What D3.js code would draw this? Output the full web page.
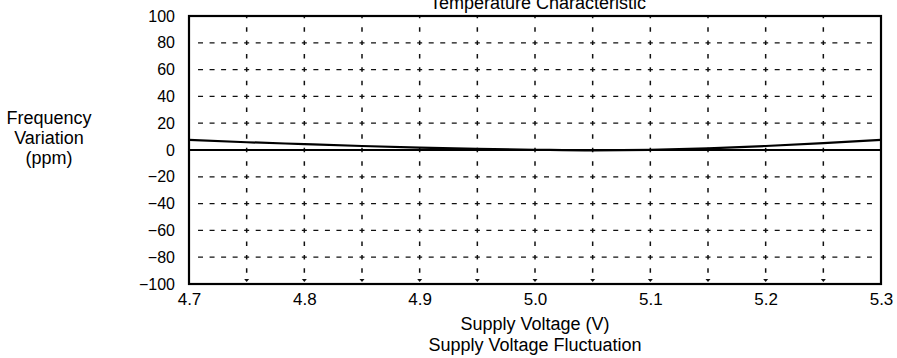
<!DOCTYPE html>
<html>
<head>
<meta charset="utf-8">
<script src="https://cdn.jsdelivr.net/npm/d3@7/dist/d3.min.js"></script>
<style>
  html, body { margin: 0; padding: 0; background: #fff; }
  svg { display: block; font-family: "Liberation Sans", Arial, Helvetica, sans-serif; }
</style>
</head>
<body>
<svg id="chart" width="897" height="358"></svg>
<script>
// Supply voltage (V) sample points
const voltages = [4.70, 4.75, 4.80, 4.85, 4.90, 4.95, 5.00, 5.05, 5.10, 5.15, 5.20, 5.25, 5.30];
// Frequency variation (ppm) versus supply voltage
const freqVariation = [7.5, 5.8, 4.4, 3.0, 1.8, 0.9, 0.2, -0.3, 0.1, 1.2, 3.0, 5.1, 7.5];
// Zero reference line (ppm)
const referenceLine = [0, 0, 0, 0, 0, 0, 0, 0, 0, 0, 0, 0, 0];

const xTicks = [4.7, 4.8, 4.9, 5.0, 5.1, 5.2, 5.3];
const yTicks = [100, 80, 60, 40, 20, 0, -20, -40, -60, -80, -100];
const xGrid = [4.75, 4.80, 4.85, 4.90, 4.95, 5.00, 5.05, 5.10, 5.15, 5.20, 5.25];
const yGrid = [80, 60, 40, 20, -20, -40, -60, -80];

const title = "Temperature Characteristic";
const xTitle = ["Supply Voltage (V)", "Supply Voltage Fluctuation"];
const yTitle = ["Frequency", "Variation", "(ppm)"];

const svg = d3.select("#chart");
const plotLeft = 189, plotRight = 881, plotTop = 16, plotBottom = 284;

const x = d3.scaleLinear().domain([4.7, 5.3]).range([plotLeft, plotRight]);
const y = d3.scaleLinear().domain([-100, 100]).range([plotBottom, plotTop]);

// Dashed grid: horizontal (dash period chosen so a dash crosses every vertical line)
const hStep = (x(4.75) - x(4.7)) / 5;
svg.append("g").selectAll("line").data(yGrid).join("line")
  .attr("x1", plotLeft + 4).attr("x2", plotRight - 4)
  .attr("y1", d => y(d)).attr("y2", d => y(d))
  .attr("stroke", "#111").attr("stroke-width", 1.3)
  .attr("stroke-dasharray", `5,${hStep - 5}`)
  .attr("stroke-dashoffset", hStep - (hStep - 2.5 - 4));

// Dashed grid: vertical
const vStep = (y(0) - y(20)) / 2;
svg.append("g").selectAll("line").data(xGrid).join("line")
  .attr("x1", d => x(d)).attr("x2", d => x(d))
  .attr("y1", plotTop).attr("y2", plotBottom - 3)
  .attr("stroke", "#111").attr("stroke-width", 1.5)
  .attr("stroke-dasharray", `4.5,${vStep - 4.5}`)
  .attr("stroke-dashoffset", 2.25);

// Small down-pointing marks at the foot of each vertical grid line
svg.append("g").selectAll("path").data(xGrid).join("path")
  .attr("d", d => `M${x(d) - 2.5},${plotBottom - 5} L${x(d) + 2.5},${plotBottom - 5} L${x(d)},${plotBottom - 2} Z`)
  .attr("fill", "#111");

// Data lines
const line = d3.line().x((d, i) => x(voltages[i])).y(d => y(d));
svg.append("path").datum(referenceLine).attr("d", line)
  .attr("fill", "none").attr("stroke", "#000").attr("stroke-width", 1.8);
svg.append("path").datum(freqVariation).attr("d", line.curve(d3.curveMonotoneX))
  .attr("fill", "none").attr("stroke", "#000").attr("stroke-width", 2.2);

// Frame
svg.append("rect")
  .attr("x", plotLeft).attr("y", plotTop)
  .attr("width", plotRight - plotLeft).attr("height", plotBottom - plotTop)
  .attr("fill", "none").attr("stroke", "#000").attr("stroke-width", 2.2);

// Y axis tick labels
const yAxis = d3.axisLeft(y).tickValues(yTicks).tickSize(0).tickPadding(14)
  .tickFormat(d => d < 0 ? "\u2212" + Math.abs(d) : d);
const gy = svg.append("g").attr("transform", `translate(${plotLeft},0)`).call(yAxis);
gy.select(".domain").remove();
gy.selectAll("text").attr("font-size", 16).attr("fill", "#000")
  .attr("font-family", "Liberation Sans, Arial, sans-serif");

// X axis tick labels
const xAxis = d3.axisBottom(x).tickValues(xTicks).tickSize(0)
  .tickFormat(d3.format(".1f"));
const gx = svg.append("g").attr("transform", `translate(0,${plotBottom})`).call(xAxis);
gx.select(".domain").remove();
gx.selectAll("text").attr("font-size", 17).attr("fill", "#000")
  .attr("dy", null).attr("y", 21)
  .attr("font-family", "Liberation Sans, Arial, sans-serif");

// Titles
svg.append("text").attr("x", (plotLeft + plotRight) / 2 + 3).attr("y", 9)
  .attr("text-anchor", "middle").attr("font-size", 18).text(title);

svg.selectAll("text.xtitle").data(xTitle).join("text").attr("class", "xtitle")
  .attr("x", (plotLeft + plotRight) / 2).attr("y", (d, i) => 330 + i * 21)
  .attr("text-anchor", "middle").attr("font-size", 18).text(d => d);

svg.selectAll("text.ytitle").data(yTitle).join("text").attr("class", "ytitle")
  .attr("x", 49).attr("y", (d, i) => 124 + i * 20)
  .attr("text-anchor", "middle").attr("font-size", 18).text(d => d);
</script>
</body>
</html>
